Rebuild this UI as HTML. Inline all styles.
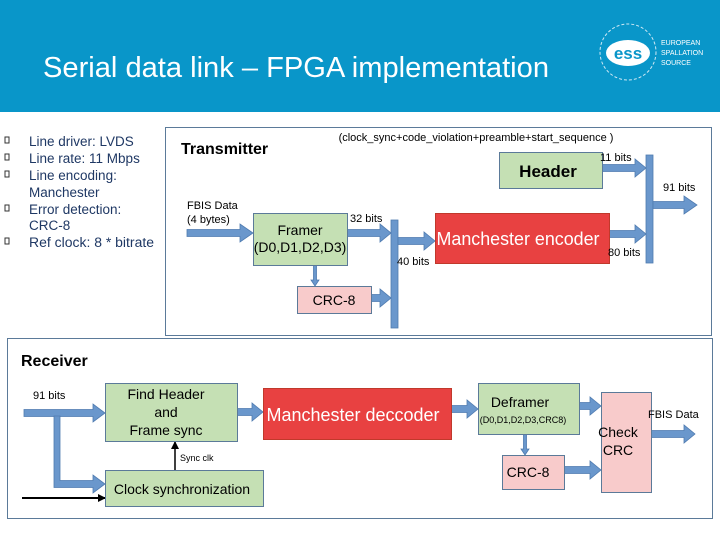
<!DOCTYPE html>
<html><head><meta charset="utf-8"><style>
html,body{margin:0;padding:0;background:#fff;}
svg{display:block;font-family:"Liberation Sans",Arial,sans-serif;}
</style></head><body>
<svg width="720" height="540" viewBox="0 0 720 540" xmlns="http://www.w3.org/2000/svg">
<defs>
<marker id="bk" markerWidth="8" markerHeight="8" refX="7" refY="4" orient="auto" markerUnits="userSpaceOnUse"><path d="M0,0 L8,4 L0,8 z" fill="#000"/></marker>
</defs>
<rect x="0" y="0" width="720" height="112" fill="#0996c9"/>
<text x="43" y="77" font-size="29" fill="#fff" textLength="506" lengthAdjust="spacingAndGlyphs">Serial data link – FPGA implementation</text>
<!-- logo -->
<circle cx="628" cy="52" r="28" fill="none" stroke="#cfe9f5" stroke-width="1" stroke-dasharray="3 2"/>
<ellipse cx="628" cy="53" rx="22" ry="13" fill="#fff"/>
<text x="628" y="59" font-size="17" font-weight="bold" fill="#0996c9" text-anchor="middle">ess</text>
<text x="661" y="45" font-size="7" fill="#fff">EUROPEAN</text>
<text x="661" y="55" font-size="7" fill="#fff">SPALLATION</text>
<text x="661" y="65" font-size="7" fill="#fff">SOURCE</text>

<!-- bullets -->
<g font-size="13.5" fill="#1f3864">
<rect x="5" y="137" width="4" height="6" fill="none" stroke="#333" stroke-width="1"/>
<rect x="5" y="154" width="4" height="6" fill="none" stroke="#333" stroke-width="1"/>
<rect x="5" y="171" width="4" height="6" fill="none" stroke="#333" stroke-width="1"/>
<rect x="5" y="205" width="4" height="6" fill="none" stroke="#333" stroke-width="1"/>
<rect x="5" y="238" width="4" height="6" fill="none" stroke="#333" stroke-width="1"/>
<text x="29" y="146">Line driver: LVDS</text>
<text x="29" y="163">Line rate: 11 Mbps</text>
<text x="29" y="180">Line encoding:</text>
<text x="29" y="197">Manchester</text>
<text x="29" y="214">Error detection:</text>
<text x="29" y="230">CRC-8</text>
<text x="29" y="247" textLength="125" lengthAdjust="spacingAndGlyphs">Ref clock: 8 * bitrate</text>
</g>

<!-- Transmitter -->
<rect x="165.5" y="127.5" width="546" height="208" fill="#fff" stroke="#5b7a99" stroke-width="1"/>
<text x="181" y="154" font-size="16" font-weight="bold">Transmitter</text>
<text x="476" y="141" font-size="11" text-anchor="middle">(clock_sync+code_violation+preamble+start_sequence )</text>
<g fill="#6a97cc" stroke="#4f7bb0" stroke-width="0.8">
<rect x="391" y="220" width="7" height="108"/>
<rect x="646" y="155" width="7" height="108"/>
<path d="M187,229.5 H240 V224 L253,233 L240,242 V236.5 H187 z"/>
<path d="M347,229.5 H380 V224 L391,233 L380,242 V236.5 H347 z"/>
<path d="M371,294.5 H380 V289 L391,298 L380,307 V301.5 H371 z"/>
<path d="M398,237.5 H424 V232 L435,241 L424,250 V244.5 H398 z"/>
<path d="M602,164.5 H635 V159 L646,168 L635,177 V171.5 H602 z"/>
<path d="M609,230.5 H635 V225 L646,234 L635,243 V237.5 H609 z"/>
<path d="M653,201.5 H684 V196 L697,205 L684,214 V208.5 H653 z"/>
<path d="M313.5,265 H316.5 V280 H319 L315,286 L311,280 H313.5 z"/>
</g>
<rect x="499.5" y="152.5" width="103" height="36" fill="#c5e0b4" stroke="#5b7a99"/>
<text x="548" y="177" font-size="17" font-weight="bold" text-anchor="middle">Header</text>
<rect x="253.5" y="213.5" width="94" height="52" fill="#c5e0b4" stroke="#5b7a99"/>
<text x="300" y="235" font-size="14" text-anchor="middle">Framer</text>
<text x="300" y="252" font-size="14" text-anchor="middle">(D0,D1,D2,D3)</text>
<rect x="297.5" y="286.5" width="74" height="27" fill="#f8cbcb" stroke="#5b7a99"/>
<text x="334" y="305" font-size="14" text-anchor="middle">CRC-8</text>
<rect x="435.5" y="213.5" width="174" height="50" fill="#e84141" stroke="#c0392b"/>
<text x="518" y="245" font-size="18" fill="#fff" text-anchor="middle" textLength="163" lengthAdjust="spacingAndGlyphs">Manchester encoder</text>
<g font-size="11">
<text x="600" y="161">11 bits</text>
<text x="663" y="191">91 bits</text>
<text x="187" y="209">FBIS Data</text>
<text x="187" y="223">(4 bytes)</text>
<text x="350" y="222">32 bits</text>
<text x="397" y="265">40 bits</text>
<text x="608" y="256">80 bits</text>
</g>

<!-- Receiver -->
<rect x="7.5" y="338.5" width="705" height="180" fill="#fff" stroke="#5b7a99"/>
<text x="21" y="366" font-size="16" font-weight="bold">Receiver</text>
<text x="33" y="399" font-size="11">91 bits</text>
<g fill="#6a97cc" stroke="#4f7bb0" stroke-width="0.8">
<path d="M24,409.5 H93 V404 L105,413 L93,422 V416.5 H24 z"/>
<path d="M54,416 H60 V480.5 H93 V475 L105,484 L93,493 V487.5 H54 z"/>
<path d="M237,408.5 H252 V403 L263,412 L252,421 V415.5 H237 z"/>
<path d="M451,405.5 H467 V400 L478,409 L467,418 V412.5 H451 z"/>
<path d="M579,402.5 H590 V397 L601,406 L590,415 V409.5 H579 z"/>
<path d="M564,466.5 H590 V461 L601,470 L590,479 V473.5 H564 z"/>
<path d="M651,430.5 H684 V425 L695,434 L684,443 V437.5 H651 z"/>
<path d="M523.5,434 H526.5 V449 H529 L525,455 L521,449 H523.5 z"/>
</g>
<line x1="22" y1="498" x2="105" y2="498" stroke="#000" stroke-width="2" marker-end="url(#bk)"/>
<line x1="175" y1="470" x2="175" y2="442" stroke="#000" stroke-width="1.5" marker-end="url(#bk)"/>
<text x="180" y="461" font-size="9">Sync clk</text>
<rect x="105.5" y="383.5" width="132" height="58" fill="#c5e0b4" stroke="#5b7a99"/>
<text x="166" y="399" font-size="14" text-anchor="middle">Find Header</text>
<text x="166" y="417" font-size="14" text-anchor="middle">and</text>
<text x="166" y="435" font-size="14" text-anchor="middle">Frame sync</text>
<rect x="263.5" y="388.5" width="188" height="51" fill="#e84141" stroke="#c0392b"/>
<text x="353" y="421" font-size="18" fill="#fff" text-anchor="middle" textLength="173" lengthAdjust="spacingAndGlyphs">Manchester deccoder</text>
<rect x="478.5" y="383.5" width="101" height="51" fill="#c5e0b4" stroke="#5b7a99"/>
<text x="520" y="407" font-size="14" text-anchor="middle">Deframer</text>
<text x="523" y="423" font-size="9" text-anchor="middle">(D0,D1,D2,D3,CRC8)</text>
<rect x="502.5" y="455.5" width="62" height="34" fill="#f8cbcb" stroke="#5b7a99"/>
<text x="528" y="477" font-size="14" text-anchor="middle">CRC-8</text>
<rect x="601.5" y="392.5" width="50" height="100" fill="#f8cbcb" stroke="#5b7a99"/>
<text x="618" y="437" font-size="14" text-anchor="middle">Check</text>
<text x="618" y="455" font-size="14" text-anchor="middle">CRC</text>
<text x="648" y="418" font-size="11">FBIS Data</text>
<rect x="105.5" y="470.5" width="158" height="36" fill="#c5e0b4" stroke="#5b7a99"/>
<text x="182" y="494" font-size="14" text-anchor="middle">Clock synchronization</text>
</svg>
</body></html>
